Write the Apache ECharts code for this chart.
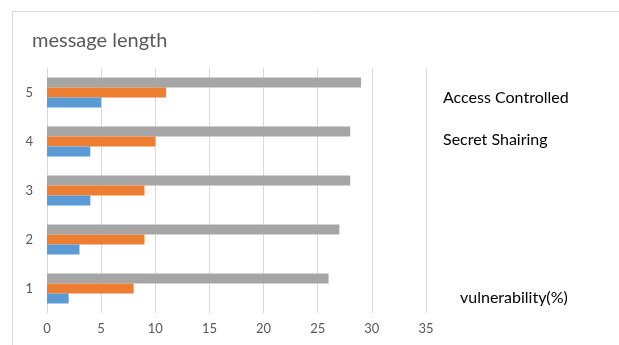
<!DOCTYPE html>
<html>
<head>
<meta charset="utf-8">
<script src="https://cdn.jsdelivr.net/npm/echarts@6/dist/echarts.min.js"></script>
<style>
  html, body { margin: 0; padding: 0; background: #fff; }
  #chart { width: 619px; height: 345px; }
</style>
</head>
<body>
<div id="chart"></div>
<script>
var categories = ['1', '2', '3', '4', '5'];
var vulnerability = [2, 3, 4, 4, 5];
var secretShairing = [8, 9, 9, 10, 11];
var accessControlled = [26, 27, 28, 28, 29];
var xTicks = [0, 5, 10, 15, 20, 25, 30, 35];

var myChart = echarts.init(document.getElementById('chart'));
var labelFont = 'Lato, "Open Sans", sans-serif';

option = {
    animation: false,
    title: {
        text: 'message length',
        left: 27,
        top: 26,
        textStyle: { fontFamily: labelFont, fontSize: 20, fontWeight: 'normal', color: '#595959' }
    },
    grid: { left: 47, right: 193, top: 68, bottom: 32 },
    xAxis: {
        type: 'value',
        min: xTicks[0],
        max: xTicks[xTicks.length - 1],
        interval: 5,
        axisLine: { show: false },
        axisTick: { show: false },
        splitLine: { show: true, lineStyle: { color: '#d9d9d9', width: 1 } },
        axisLabel: { color: '#595959', fontFamily: labelFont, fontSize: 13, margin: 9 }
    },
    yAxis: {
        type: 'category',
        data: categories,
        axisLine: { show: false },
        axisTick: { show: false },
        axisLabel: { color: '#595959', fontFamily: labelFont, fontSize: 13, margin: 14 }
    },
    // first series is drawn on top of each group
    series: [
        { name: 'Access Controlled', type: 'bar', data: accessControlled, barWidth: 10, barGap: '0%', itemStyle: { color: '#a5a5a5' } },
        { name: 'Secret Shairing', type: 'bar', data: secretShairing, barWidth: 10, barGap: '0%', itemStyle: { color: '#ed7d31' } },
        { name: 'vulnerability(%)', type: 'bar', data: vulnerability, barWidth: 10, barGap: '0%', itemStyle: { color: '#5b9bd5' } }
    ],
    graphic: [
        // chart frame
        { type: 'line', shape: { x1: 12, y1: 11.5, x2: 619, y2: 11.5 }, style: { stroke: '#d9d9d9', lineWidth: 1 } },
        { type: 'line', shape: { x1: 12.5, y1: 11, x2: 12.5, y2: 345 }, style: { stroke: '#d9d9d9', lineWidth: 1 } },
        // legend-like text boxes
        { type: 'text', left: 443, top: 90, style: { text: 'Access Controlled', fontFamily: labelFont, fontSize: 16, fill: '#000' } },
        { type: 'text', left: 443, top: 132, style: { text: 'Secret Shairing', fontFamily: labelFont, fontSize: 16, fill: '#000' } },
        { type: 'text', left: 460, top: 290, style: { text: 'vulnerability(%)', fontFamily: labelFont, fontSize: 16, fill: '#000' } }
    ]
};

myChart.setOption(option, true);
</script>
</body>
</html>
